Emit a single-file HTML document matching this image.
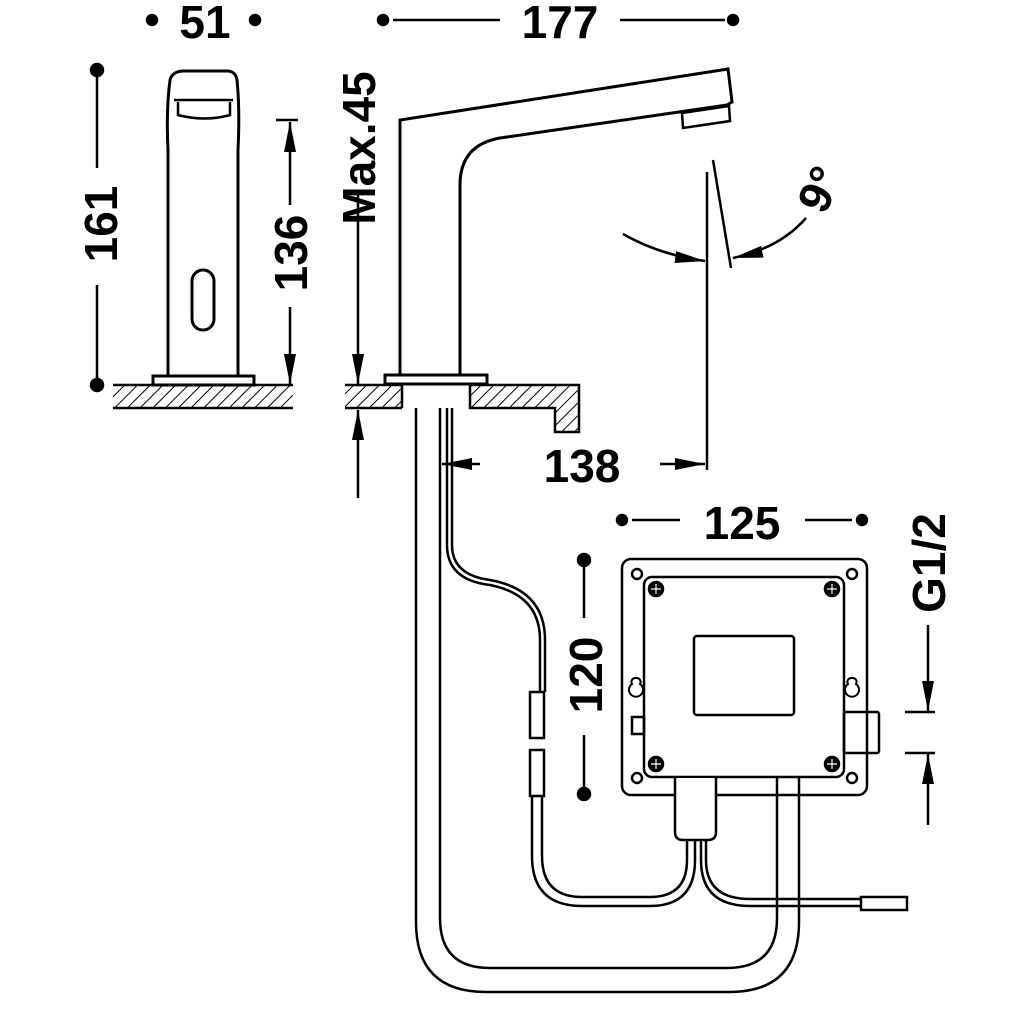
<!DOCTYPE html>
<html><head><meta charset="utf-8"><style>html,body{margin:0;padding:0;background:#fff}svg{display:block}text{font-family:"Liberation Sans",sans-serif;font-weight:bold;font-size:46px;fill:#000}</style></head>
<body>
<svg width="1024" height="1024" viewBox="0 0 1024 1024" xmlns="http://www.w3.org/2000/svg">
<defs>
<pattern id="h" width="9" height="9" patternUnits="userSpaceOnUse" patternTransform="rotate(45)">
<line x1="0" y1="0" x2="0" y2="9" stroke="#000" stroke-width="2"/>
</pattern>
<marker id="a" viewBox="0 0 30 12" refX="30" refY="6" markerWidth="30" markerHeight="12" markerUnits="userSpaceOnUse" orient="auto"><path d="M0,0 L30,6 L0,12 Z" fill="#000"/></marker>
</defs>
<g fill="none" stroke="#000" stroke-width="2.5">
<circle cx="152" cy="20" r="5" fill="#000"/><circle cx="255" cy="20" r="5" fill="#000"/>
<circle cx="383" cy="20" r="5" fill="#000"/><circle cx="733" cy="20" r="5" fill="#000"/>
<line x1="393" y1="20" x2="500" y2="20"/><line x1="620" y1="20" x2="725" y2="20"/>
<circle cx="97" cy="70" r="6" fill="#000"/><circle cx="97" cy="385" r="6" fill="#000"/>
<line x1="97" y1="70" x2="97" y2="168"/><line x1="97" y1="285" x2="97" y2="385"/>
<line x1="276" y1="120" x2="298" y2="120"/>
<line x1="290" y1="205" x2="290" y2="122" marker-end="url(#a)"/>
<line x1="290" y1="307" x2="290" y2="384" marker-end="url(#a)"/>
<line x1="358" y1="190" x2="358" y2="384" marker-end="url(#a)"/>
<line x1="358" y1="498" x2="358" y2="410" marker-end="url(#a)"/>
<rect x="153" y="376" width="101" height="9" stroke-width="3"/>
<path d="M168,376 L168,150 Q166,110 170,80 Q172,72 182,71 L228,71 Q236,72 237,80 Q240,110 238,150 L238,376" stroke-width="3"/>
<path d="M174,100 L233,100 M178,102 L178,115 Q205,122 230,115 L230,102" stroke-width="2.5"/>
<rect x="192" y="270" width="22" height="60" rx="11" stroke-width="3"/>
<rect x="113" y="385" width="180" height="23" fill="url(#h)" stroke="none"/>
<line x1="113" y1="385" x2="293" y2="385"/><line x1="113" y1="408" x2="293" y2="408"/>
<path d="M400,376 L400,120 L728,69 L732,102 L727,105 L500,138 Q460,145 460,185 L460,376" stroke-width="3"/>
<path d="M682,113 L729,106 L730,121 L683,128 Z" stroke-width="2.5"/>
<rect x="385" y="375" width="102" height="9" stroke-width="3"/>
<path d="M345,385 L402,385 L402,408 L345,408 Z" fill="url(#h)" stroke="none"/>
<line x1="345" y1="385" x2="402" y2="385"/><line x1="345" y1="408" x2="402" y2="408"/><line x1="402" y1="385" x2="402" y2="408"/>
<path d="M470,385 L579,385 L579,432 L555,432 L555,408 L470,408 Z" fill="url(#h)"/>
<line x1="707" y1="172" x2="707" y2="470"/>
<line x1="713" y1="160" x2="731" y2="268"/>
<path d="M623,234 Q660,255 705,261" marker-end="url(#a)"/>
<path d="M806,218 Q780,248 733,258" marker-end="url(#a)"/>
<line x1="480" y1="464" x2="442" y2="464" marker-end="url(#a)"/>
<line x1="660" y1="464" x2="705" y2="464" marker-end="url(#a)"/>
<path d="M416,408 L416,922 Q416,992 486,992 L729,992 Q799,992 799,922 L799,795"/>
<path d="M440,408 L440,918 Q440,968 490,968 L727,968 Q777,968 777,918 L777,795"/>
<path d="M447,408 L447,545 Q447,580 490,585 Q540,595 540,640 L540,692"/>
<path d="M452,408 L452,545 Q452,575 490,580 Q545,590 545,640 L545,692"/>
<rect x="530" y="692" width="14" height="46"/>
<rect x="530" y="750" width="14" height="46"/>
<path d="M532,796 L532,856 Q532,906 582,906 L650,906 Q695,906 695,860 L695,840"/>
<path d="M542,796 L542,856 Q542,897 582,897 L650,897 Q687,897 687,860 L687,840"/>
<path d="M701,840 L701,860 Q701,906 750,906 L861,906"/>
<path d="M706,840 L706,860 Q706,899 750,899 L861,899"/>
<rect x="861" y="897" width="46" height="13" fill="#fff"/>
<rect x="622" y="559" width="245" height="236" rx="9" fill="#fff"/>
<rect x="644" y="577" width="200" height="200" rx="8"/>
<rect x="694" y="636" width="100" height="79" rx="3"/>
<circle cx="637" cy="574" r="5"/><circle cx="852" cy="574" r="5"/><circle cx="637" cy="778" r="5"/><circle cx="852" cy="778" r="5"/>
<circle cx="656" cy="589" r="7" fill="#000"/><circle cx="832" cy="589" r="7" fill="#000"/><circle cx="656" cy="764" r="7" fill="#000"/><circle cx="832" cy="764" r="7" fill="#000"/>
<g stroke="#fff" stroke-width="1.2"><path d="M651,589h10M656,584v10M827,589h10M832,584v10M651,764h10M656,759v10M827,764h10M832,759v10"/></g>
<path d="M636,678 a4,4 0 0 1 4,6 a7,7 0 1 1 -8,0 a4,4 0 0 1 4,-6 Z" stroke-width="2"/>
<path d="M852,678 a4,4 0 0 1 4,6 a7,7 0 1 1 -8,0 a4,4 0 0 1 4,-6 Z" stroke-width="2"/>
<rect x="632" y="717" width="12" height="17"/>
<rect x="844" y="712" width="35" height="41" rx="2"/>
<path d="M675,778 L675,832 Q675,840 683,840 L708,840 Q716,840 716,832 L716,778" fill="#fff"/>
<line x1="777" y1="777" x2="777" y2="795"/><line x1="799" y1="777" x2="799" y2="795"/>
<circle cx="584" cy="560" r="6" fill="#000"/><circle cx="584" cy="794" r="6" fill="#000"/>
<line x1="584" y1="560" x2="584" y2="618"/><line x1="584" y1="735" x2="584" y2="794"/>
<circle cx="622" cy="520" r="5" fill="#000"/><circle cx="862" cy="520" r="5" fill="#000"/>
<line x1="632" y1="520" x2="680" y2="520"/><line x1="805" y1="520" x2="852" y2="520"/>
<line x1="905" y1="712" x2="935" y2="712"/><line x1="905" y1="753" x2="935" y2="753"/>
<line x1="928" y1="625" x2="928" y2="711" marker-end="url(#a)"/>
<line x1="928" y1="825" x2="928" y2="754" marker-end="url(#a)"/>
</g>
<text x="205" y="38" text-anchor="middle">51</text>
<text x="560" y="38" text-anchor="middle">177</text>
<text transform="translate(117,224) rotate(-90)" text-anchor="middle">161</text>
<text transform="translate(307,253) rotate(-90)" text-anchor="middle">136</text>
<text transform="translate(375,148) rotate(-90)" text-anchor="middle">Max.45</text>
<text x="582" y="482" text-anchor="middle">138</text>
<text x="742" y="539" text-anchor="middle">125</text>
<text transform="translate(602,675) rotate(-90)" text-anchor="middle">120</text>
<text transform="translate(945,563) rotate(-90)" text-anchor="middle">G1/2</text>
<text transform="translate(834,196) rotate(-65)" text-anchor="middle">9°</text>
</svg>
</body></html>
